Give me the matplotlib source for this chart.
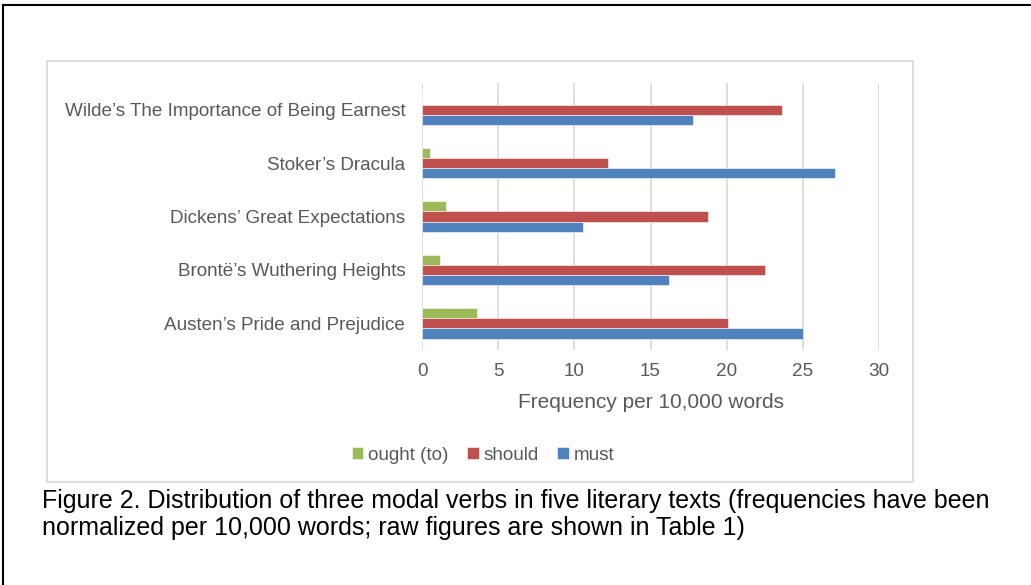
import numpy as np
import matplotlib
matplotlib.use('Agg')
import matplotlib.pyplot as plt
from matplotlib.patches import Rectangle
from matplotlib.lines import Line2D

plt.rcParams['font.family'] = ['Liberation Sans', 'DejaVu Sans']

# data (bottom to top)
texts = ["Austen\u2019s Pride and Prejudice",
         "Bront\u00eb\u2019s Wuthering Heights",
         "Dickens\u2019 Great Expectations",
         "Stoker\u2019s Dracula",
         "Wilde\u2019s The Importance of Being Earnest"]
ought = [3.6, 1.2, 1.6, 0.5, 0.0]
should = [20.1, 22.5, 18.75, 12.2, 23.6]
must = [25.0, 16.2, 10.6, 27.1, 17.8]
series = ["ought (to)", "should", "must"]
colors = ["#9BBB59", "#C0504D", "#4F81BD"]

W, H = 1031, 585
fig = plt.figure(figsize=(W / 100, H / 100), dpi=100)

# outer frame (cropped: only top and left visible)
fig.add_artist(Line2D([3 / W, 3 / W], [0, 1 - 5 / H], color='black', lw=1.5, transform=fig.transFigure))
fig.add_artist(Line2D([3 / W, 1], [1 - 5 / H, 1 - 5 / H], color='black', lw=1.5, transform=fig.transFigure))

# chart area box
fig.add_artist(Rectangle((47 / W, 1 - 482 / H), (913 - 47) / W, (482 - 61) / H,
                         fill=False, edgecolor='#d9d9d9', lw=1.2, transform=fig.transFigure))

ax = fig.add_axes([422 / W, 1 - 350 / H, (879 - 422) / W, (350 - 83) / H])

y = np.arange(len(texts))
h = 0.19
ax.barh(y + h, ought, height=h, color=colors[0], label=series[0], edgecolor='white', linewidth=0.4)
ax.barh(y, should, height=h, color=colors[1], label=series[1], edgecolor='white', linewidth=0.4)
ax.barh(y - h, must, height=h, color=colors[2], label=series[2], edgecolor='white', linewidth=0.4)

ax.set_xlim(0, 30)
ax.set_ylim(-0.5, len(texts) - 0.5)
ax.set_xticks(range(0, 31, 5))
ax.set_yticks(y)
ax.set_yticklabels(texts)
ax.tick_params(axis='both', length=0, labelsize=13.6, labelcolor='#595959')
ax.tick_params(axis='x', pad=9)
ax.tick_params(axis='y', pad=12)
ax.grid(axis='x', color='#d9d9d9', lw=1.2)
ax.set_axisbelow(True)
for s in ax.spines.values():
    s.set_visible(False)
ax.set_xlabel("Frequency per 10,000 words", fontsize=15, color='#595959', labelpad=10)

fig.legend(loc='center', bbox_to_anchor=(483 / W, 1 - 455 / H), ncol=3, frameon=False,
           fontsize=13.6, labelcolor='#595959', handlelength=0.6, handleheight=0.6,
           handletextpad=0.25, columnspacing=1.0)

fig.text(42 / W, 1 - 489 / H,
         "Figure 2. Distribution of three modal verbs in five literary texts (frequencies have been\n"
         "normalized per 10,000 words; raw figures are shown in Table 1)",
         ha='left', va='top', fontsize=18, color='black', linespacing=1.16)

fig.savefig('out.png', dpi=100)
